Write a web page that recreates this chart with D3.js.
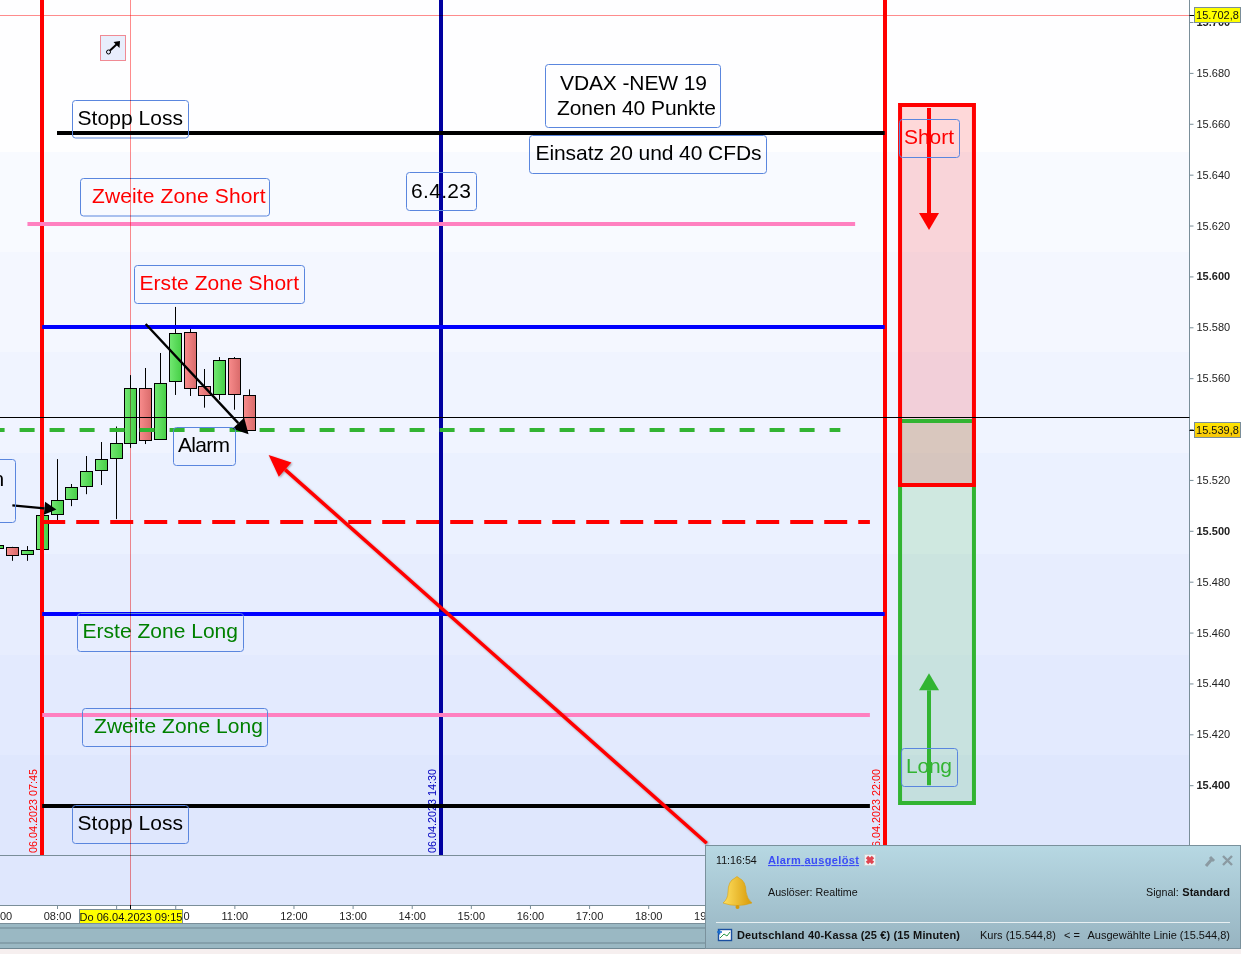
<!DOCTYPE html>
<html><head><meta charset="utf-8">
<script src="https://cdn.jsdelivr.net/npm/d3@7"></script>
<style>
html,body{margin:0;padding:0;background:#f6efef;overflow:hidden}
svg{display:block}
text{font-family:"Liberation Sans",Arial,sans-serif}
</style></head><body>
<svg id="c" width="1241" height="954"></svg>
<script>
// ---- data ----
const candleHours = [7,7.25,7.5,7.75,8,8.25,8.5,8.75,9,9.25,9.5,9.75,10,10.25,10.5,10.75,11,11.25];
const opens  = [15493.2,15493.5,15490.6,15493.1,15506.4,15512.3,15517.5,15523.8,15528.5,15534.4,15556,15535.9,15558.8,15578,15556.8,15553.6,15567.8,15553.2];
const closes = [15494.3,15490.3,15492.3,15506.4,15512,15517.1,15523.4,15528.1,15534.4,15556,15535.5,15558,15577.6,15556,15553.2,15567,15553.6,15539.5];
const highs  = [15494.6,15493.7,15494,15506.4,15528.2,15518.4,15529.4,15534.9,15541,15561.2,15564,15569.9,15588,15579.7,15563.6,15568.3,15568.3,15555.6];
const lows   = [15492.8,15488.2,15488.2,15493.1,15504.2,15509.7,15514.4,15518,15504.6,15532.6,15534.1,15535.9,15553.4,15553,15548.4,15551.5,15547.6,15539.5];

const priceTicks = [15400,15420,15440,15460,15480,15500,15520,15540,15560,15580,15600,15620,15640,15660,15680,15700];
const hourTicks  = [7,8,9,10,11,12,13,14,15,16,17,18,19];

// horizontal levels: [value, start hour, end hour]
const stopTop   = [15656.5, 8, 22];
const zone2Up   = [15620.7, 7.5, 21.5];
const zone1Up   = [15580.1, 7.75, 22];
const alarmLine = [15539.8, 6.86, 21.25];
const entryLine = [15503.4, 7.75, 21.75];
const zone1Down = [15467.2, 7.75, 22];
const zone2Down = [15427.5, 7.75, 21.75];
const stopLow   = [15391.7, 7.75, 21.75];
const lastPrice = 15544.8;
const crossPrice = 15702.8;
const crossHour = 9.25;
const sessionLines = [[7.75,"06.04.2023 07:45"],[14.5,"06.04.2023 14:30"],[22,"06.04.2023 22:00"]];
// side boxes: [h0,h1,top value,bottom value]
const shortBox = [22.26,23.51,15667.4,15518];
const longBox  = [22.26,23.51,15543.1,15393];
// arrows: [h0,v0,h1,v1]
const arrowDown = [9.50,15581.3,11.24,15538];
const arrowEntry = [7.245,15510,7.99,15508.4];
const arrowAlarm = [18.99,15377.2,11.58,15529.8];
const arrowShort = [22.75,15666.2,22.75,15618.2];
const arrowLong  = [22.75,15400,22.75,15444];
const bandEdges  = [15648.9,15609.6,15570.3,15530.6,15490.8,15451,15411.8];
const bandColors = ["#fefeff","#f8faff","#f4f7ff","#f0f4ff","#ebf1ff","#e7edfe","#e3eafe","#dfe7fd"];

// ---- scales ----
const x = d3.scaleLinear().domain([8,18]).range([57,648.2]);
const y = d3.scaleLinear().domain([15400,15680]).range([785.2,72.9]);
const px = h => Math.floor(x(h))+.5;
const svg = d3.select("#c");
const defs = svg.append("defs");
function grad(id,a,b,v){const g=defs.append("linearGradient").attr("id",id);
  if(v) g.attr("x1",0).attr("x2",0).attr("y1",0).attr("y2",1);
  g.append("stop").attr("offset",0).attr("stop-color",a);
  g.append("stop").attr("offset",1).attr("stop-color",b);}
grad("gUp","#72e872","#46cf46");
grad("gDn","#f88c8c","#d96a6a");
grad("gAlert","#b7d8e3","#97b4c1",true);
grad("gTag","#ffe600","#f8c60a",true);
grad("gBell","#ffe060","#d89a08");
const shadow=defs.append("filter").attr("id","soft").attr("x","-10%").attr("y","-10%").attr("width","120%").attr("height","120%");
shadow.append("feDropShadow").attr("dx",1).attr("dy",1).attr("stdDeviation",1).attr("flood-color","#000").attr("flood-opacity",.35);

const W=1189.5;
// background bands
const edges=[0,...bandEdges.map(v=>Math.round(y(v))),855];
bandColors.forEach((c,i)=>svg.append("rect").attr("x",0).attr("y",edges[i]).attr("width",W).attr("height",edges[i+1]-edges[i]).attr("fill",c));
svg.append("rect").attr("x",0).attr("y",855).attr("width",W).attr("height",50).attr("fill","#dfe7fd");
svg.append("rect").attr("x",W).attr("y",0).attr("width",1241-W).attr("height",905).attr("fill","#fff");
svg.append("rect").attr("x",0).attr("y",905).attr("width",1241).attr("height",18).attr("fill","#fff");
svg.append("rect").attr("x",0).attr("y",923).attr("width",1241).attr("height",25.5).attr("fill","#9ab8c3");
[928,943,948.5].forEach(v=>svg.append("line").attr("x1",0).attr("x2",1241).attr("y1",v).attr("y2",v).attr("stroke","#6f8792"));
[855.5,905.5,923.5].forEach(v=>svg.append("line").attr("x1",0).attr("x2",W).attr("y1",v).attr("y2",v).attr("stroke","#7a8e99"));

// y axis
const fmt=d3.formatLocale({decimal:",",thousands:".",grouping:[3],currency:["","€"]}).format(",.0f");
const yAx=svg.append("g").attr("transform",`translate(${W},0)`).call(d3.axisRight(y).tickValues(priceTicks).tickSize(4).tickPadding(3).tickFormat(fmt));
yAx.select(".domain").attr("stroke","#7a8e99").attr("d","M0,0V905");
yAx.selectAll(".tick line").attr("stroke","#7a8e99");
yAx.selectAll(".tick text").attr("fill","#222").attr("font-size",11).attr("font-weight",d=>d%100===0?"bold":"normal");
yAx.selectAll("text").style("font-family",'"Liberation Sans",Arial,sans-serif');

// x axis
const xAx=svg.append("g").attr("transform","translate(0,905)").call(d3.axisBottom(x).tickValues(hourTicks).tickSize(4).tickPadding(3.5).tickFormat(h=>String(h).padStart(2,"0")+":00"));
xAx.select(".domain").remove();
xAx.selectAll(".tick line").attr("stroke","#7a8e99");
xAx.selectAll(".tick text").attr("fill","#222").attr("font-size",11).style("font-family",'"Liberation Sans",Arial,sans-serif');

// side boxes: fills first, then green outline, then red outline
function boxShape(b){return svg.append("rect").attr("x",x(b[0])).attr("width",x(b[1])-x(b[0])).attr("y",Math.round(y(b[2]))).attr("height",Math.round(y(b[3]))-Math.round(y(b[2])));}
boxShape(longBox).attr("fill","#32b432").attr("fill-opacity",.15);
boxShape(shortBox).attr("fill","#ff0000").attr("fill-opacity",.15);
boxShape(longBox).attr("fill","none").attr("stroke","#32b432").attr("stroke-width",4);
boxShape(shortBox).attr("fill","none").attr("stroke","#ff0000").attr("stroke-width",4);

// candles
const candles=candleHours.map((h,i)=>({h,o:opens[i],c:closes[i],hi:highs[i],lo:lows[i]}));
const cg=svg.append("g").selectAll("g").data(candles).join("g");
cg.append("line").attr("x1",d=>px(d.h)).attr("x2",d=>px(d.h)).attr("y1",d=>y(d.hi)).attr("y2",d=>y(d.lo)).attr("stroke","#000");
cg.append("rect").attr("x",d=>px(d.h)-6).attr("width",12)
  .attr("y",d=>Math.round(y(Math.max(d.o,d.c)))+.5).attr("height",d=>Math.max(1,Math.round(Math.abs(y(d.o)-y(d.c)))))
  .attr("fill",d=>d.c>=d.o?"url(#gUp)":"url(#gDn)").attr("stroke","#000");

// session lines
sessionLines.forEach((s,i)=>{
  const col=i===1?"#0000a0":"#ff0000", lx=Math.round(x(s[0]));
  svg.append("line").attr("x1",lx).attr("x2",lx).attr("y1",0).attr("y2",855).attr("stroke",col).attr("stroke-width",4);
  svg.append("text").attr("transform",`translate(${lx-5},853) rotate(-90)`).attr("font-size",10.8).attr("fill",col==="#ff0000"?"#ff0000":"#0000c0").text(s[1]);
});

// levels
function level(l,col,w,dash){const yy=Math.round(y(l[0]));const s=svg.append("line").attr("x1",x(l[1])).attr("x2",x(l[2])).attr("y1",yy).attr("y2",yy).attr("stroke",col).attr("stroke-width",w);
  if(dash) s.attr("stroke-dasharray",dash);}
level(stopTop,"#000",4);
level(zone2Up,"#ff80c0",4);
level(zone1Up,"#0000ff",4);
level(alarmLine,"#32b432",4,"15 15");
level(entryLine,"#ff0000",4,"23 11");
level(zone1Down,"#0000ff",4);
level(zone2Down,"#ff80c0",4);
level(stopLow,"#000",4);
svg.append("line").attr("x1",0).attr("x2",W).attr("y1",Math.round(y(lastPrice))+.5).attr("y2",Math.round(y(lastPrice))+.5).attr("stroke","#000");

// arrows
function arrow(a,col,w,len,half,soft){
  const x0=x(a[0]),y0=y(a[1]),x1=x(a[2]),y1=y(a[3]);
  const t=Math.atan2(y1-y0,x1-x0),c=Math.cos(t),s=Math.sin(t);
  const bx=x1-c*len,by=y1-s*len;
  const g=svg.append("g"); if(soft) g.attr("filter","url(#soft)");
  g.append("line").attr("x1",x0).attr("y1",y0).attr("x2",bx).attr("y2",by).attr("stroke",col).attr("stroke-width",w);
  g.append("polygon").attr("points",[[x1,y1],[bx-s*half,by+c*half],[bx+s*half,by-c*half]].join(" ")).attr("fill",col);
}
arrow(arrowEntry,"#000",2.4,12,6.5);
arrow(arrowDown,"#000",2.4,15,8);
arrow(arrowAlarm,"#ff0000",3.5,22,9.5,true);
arrow(arrowShort,"#ff0000",4,17,10);
arrow(arrowLong,"#32b432",4,17,10);

// text boxes (layout table; tw = drawn text width)
const labels=[
 {x:72.5,y:100.5,w:116,h:37.5,t:["Stopp Loss"],tw:[105.5],c:"#000",tx:77.5,by:[125]},
 {x:80.5,y:178.5,w:189,h:37.5,t:["Zweite Zone Short"],tw:[173.5],c:"#ff0000",tx:92,by:[203]},
 {x:134.5,y:265.5,w:170,h:38,t:["Erste Zone Short"],tw:[159.5],c:"#ff0000",tx:139.5,by:[290]},
 {x:545.5,y:64.5,w:175,h:63,t:["VDAX -NEW 19","Zonen 40 Punkte"],tw:[147,159],c:"#000",tx:[560,557],by:[90,115]},
 {x:529.5,y:135.5,w:237,h:38,t:["Einsatz 20 und 40 CFDs"],tw:[226],c:"#000",tx:535.5,by:[160]},
 {x:406.5,y:172.5,w:70,h:38,t:["6.4.23"],tw:[60],c:"#000",tx:411,by:[198]},
 {x:173.5,y:427.5,w:62,h:38,t:["Alarm"],tw:[52],c:"#000",tx:178,by:[452]},
 {x:-6.5,y:459.5,w:22,h:63,t:["n"],c:"#000",tx:-7.5,by:[486]},
 {x:77.5,y:613.5,w:166,h:38,t:["Erste Zone Long"],tw:[155.5],c:"#008000",tx:82.5,by:[638]},
 {x:82.5,y:708.5,w:185,h:38,t:["Zweite Zone Long"],tw:[169],c:"#008000",tx:94,by:[733]},
 {x:72.5,y:805.5,w:116,h:38,t:["Stopp Loss"],tw:[105.5],c:"#000",tx:77.5,by:[830]},
 {x:899.5,y:119.5,w:60,h:38,t:["Short"],tw:[50],c:"#ff0000",tx:904,by:[144]},
 {x:901.5,y:748.5,w:56,h:38,t:["Long"],tw:[46],c:"#32b432",tx:906,by:[773]}
];
labels.forEach(l=>{
  svg.append("rect").attr("x",l.x).attr("y",l.y).attr("width",l.w).attr("height",l.h).attr("rx",3).attr("fill","none").attr("stroke","#5a86de");
  l.t.forEach((s,i)=>{
    const n=svg.append("text").attr("x",Array.isArray(l.tx)?l.tx[i]:l.tx).attr("y",l.by[i]).attr("font-size",21).attr("fill",l.c).text(s);
    if(l.tw) n.attr("textLength",l.tw[i]).attr("lengthAdjust","spacing");
  });
});

// tool icon
svg.append("rect").attr("x",100.5).attr("y",35.5).attr("width",25).attr("height",25).attr("fill","#e8eefc").attr("stroke","#f08a94");
svg.append("circle").attr("cx",108.5).attr("cy",52).attr("r",2).attr("fill","none").attr("stroke","#000");
svg.append("line").attr("x1",110).attr("y1",50.5).attr("x2",117).attr("y2",44).attr("stroke","#000").attr("stroke-width",2);
svg.append("polygon").attr("points","120,41 119.5,48 113.5,42").attr("fill","#000");

// crosshair
svg.append("line").attr("x1",0).attr("x2",W).attr("y1",Math.round(y(crossPrice))+.5).attr("y2",Math.round(y(crossPrice))+.5).attr("stroke","#ff8c8c").style("mix-blend-mode","multiply");
svg.append("line").attr("x1",px(crossHour)).attr("x2",px(crossHour)).attr("y1",0).attr("y2",905).attr("stroke","#ff8c8c").style("mix-blend-mode","multiply");
svg.append("line").attr("x1",px(crossHour)).attr("x2",px(crossHour)).attr("y1",905).attr("y2",909).attr("stroke","#000");

// value tags
function tag(v,txt,fill){
  const yy=Math.round(y(v));
  svg.append("line").attr("x1",W).attr("x2",1194).attr("y1",yy+.5).attr("y2",yy+.5).attr("stroke","#000");
  svg.append("rect").attr("x",1194.5).attr("y",yy-7.5).attr("width",46).attr("height",15).attr("fill",fill).attr("stroke","#7a8e99");
  svg.append("text").attr("x",1217.5).attr("y",yy+4).attr("text-anchor","middle").attr("font-size",11).attr("fill","#111").text(txt);
}
const fmt1=d3.formatLocale({decimal:",",thousands:".",grouping:[3],currency:["","€"]}).format(",.1f");
tag(crossPrice,fmt1(crossPrice),"#ffff00");
tag(alarmLine[0],fmt1(alarmLine[0]),"url(#gTag)");
svg.append("rect").attr("x",79.5).attr("y",909.5).attr("width",103).attr("height",14).attr("fill","#ffff00").attr("stroke","#7a8e99");
svg.append("text").attr("x",131).attr("y",921).attr("text-anchor","middle").attr("font-size",11).attr("fill","#111").text("Do 06.04.2023 09:15");

// alert window
const A=svg.append("g");
A.append("rect").attr("x",705.5).attr("y",845.5).attr("width",535).attr("height",103).attr("fill","url(#gAlert)").attr("stroke","#7a919c");
const T=(xx,yy,s,o={})=>A.append("text").attr("x",xx).attr("y",yy).attr("font-size",o.size||11).attr("fill",o.c||"#111").attr("font-weight",o.b?"bold":"normal").attr("text-anchor",o.a||"start").attr("text-decoration",o.u?"underline":null).text(s);
T(716,864,"11:16:54",{size:10.7});
T(768,864,"Alarm ausgelöst",{c:"#3b4cf5",u:1,b:1}).attr("textLength",91).attr("lengthAdjust","spacing");
A.append("rect").attr("x",864.5).attr("y",854.5).attr("width",11).attr("height",11).attr("fill","#eef3f5").attr("stroke","#c9d6da");
A.append("path").attr("d","M867,857 L873,863 M873,857 L867,863").attr("stroke","#e04550").attr("stroke-width",3.4);
T(768,896,"Auslöser: Realtime",{size:10.7});
T(1146,896,"Signal:",{size:10.7});
T(1230,896,"Standard",{b:1,a:"end"});
A.append("line").attr("x1",716).attr("x2",1230).attr("y1",922.5).attr("y2",922.5).attr("stroke","#e8f0f3");
T(737,939,"Deutschland 40-Kassa (25 €) (15 Minuten)",{b:1}).attr("textLength",223).attr("lengthAdjust","spacing");
T(980,939,"Kurs (15.544,8)");
T(1064,939,"< =");
T(1230,939,"Ausgewählte Linie (15.544,8)",{a:"end"});
// bell
A.append("path").attr("d","M735,878 Q737,875 739,878 Q746,881 746,892 Q747,899 752,903 Q737,908 723,903 Q728,899 728,892 Q728,881 735,878Z").attr("fill","url(#gBell)").attr("stroke","#d8a010").attr("stroke-width",.6);
A.append("circle").attr("cx",737.5).attr("cy",907).attr("r",2).attr("fill","#d89a08");
// wrench and close
A.append("path").attr("d","M1206,866 L1212,859 M1210,857 L1214,861").attr("stroke","#8b9aa2").attr("stroke-width",3);
A.append("path").attr("d","M1223,856 L1232,865 M1232,856 L1223,865").attr("stroke","#8b9aa2").attr("stroke-width",2.4);
// instrument icon
A.append("rect").attr("x",718.5).attr("y",929.5).attr("width",13).attr("height",11).attr("fill","#fff").attr("stroke","#1a4fa0").attr("stroke-width",1.4);
A.append("path").attr("d","M720,938 L724,934 L727,936 L730,932").attr("fill","none").attr("stroke","#2a9a4a");
A.append("path").attr("d","M717,932 h5 M719.5,929.5 v5").attr("stroke","#1a6fd0").attr("stroke-width",1.6);
</script>
</body></html>
